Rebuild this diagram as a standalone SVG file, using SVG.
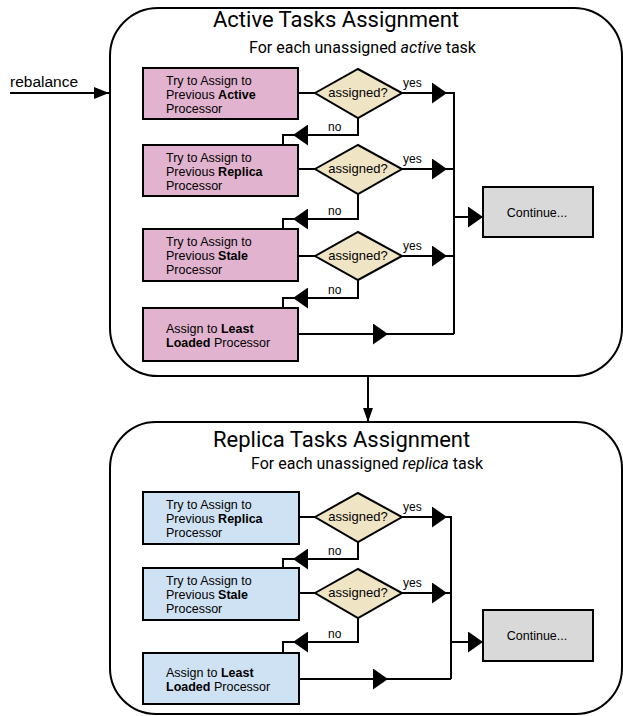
<svg xmlns="http://www.w3.org/2000/svg" width="623" height="716" viewBox="0 0 623 716">
<defs>
<style>
.cont{fill:#fff;stroke:#000;stroke-width:2}
.title{font-family:Roboto,"Liberation Sans",sans-serif;font-size:22px;fill:#000}
.sub{font-family:Roboto,"Liberation Sans",sans-serif;font-size:16px;fill:#000}
.pink{fill:#e1b3ce;stroke:#000;stroke-width:2}
.blue{fill:#cfe2f3;stroke:#000;stroke-width:2}
.dia{fill:#efe4c4;stroke:#000;stroke-width:2}
.gray{fill:#d9d9d9;stroke:#000;stroke-width:2}
.t{font-family:"Liberation Sans",Arial,sans-serif;font-size:12.5px;fill:#000}
.dt{font-family:"Liberation Sans",Arial,sans-serif;font-size:13px;fill:#000;text-anchor:middle}
.lbl{font-family:"Liberation Sans",Arial,sans-serif;font-size:12px;fill:#000}
.ln{fill:none;stroke:#000;stroke-width:2}
.arr{fill:none;stroke:#000;stroke-width:2;marker-end:url(#ah)}
</style>
<marker id="ah" viewBox="0 0 15 21" refX="15" refY="10.5" markerWidth="15" markerHeight="21" markerUnits="userSpaceOnUse" orient="auto"><path d="M0,0 L15,10.5 L0,21 z" fill="#000"/></marker>
<marker id="ahs" viewBox="0 0 15 12" refX="15" refY="6" markerWidth="15" markerHeight="12" markerUnits="userSpaceOnUse" orient="auto"><path d="M0,0 L15,6 L0,12 z" fill="#000"/></marker>
<marker id="ahv" viewBox="0 0 14 10" refX="14" refY="5" markerWidth="14" markerHeight="10" markerUnits="userSpaceOnUse" orient="auto"><path d="M0,0 L14,5 L0,10 z" fill="#000"/></marker>
</defs>

<g id="active-container">
<rect class="cont" x="110" y="8" width="512" height="368" rx="48" ry="48"/>
<text class="title" x="213" y="27">Active Tasks Assignment</text>
<text class="sub" x="249" y="53">For each unassigned <tspan font-style="italic">active</tspan> task</text>
</g>

<g id="replica-container">
<rect class="cont" x="110" y="422" width="512" height="292" rx="46" ry="46"/>
<text class="title" x="213" y="447">Replica Tasks Assignment</text>
<text class="sub" x="251" y="469">For each unassigned <tspan font-style="italic">replica</tspan> task</text>
</g>

<g id="rebalance-label">
<text x="10" y="87" style="font-family:'Liberation Sans',Arial,sans-serif;font-size:15.5px">rebalance</text>
</g>

<g id="connectors">
<path d="M10,93 H109" class="ln" style="marker-end:url(#ahs)"/>
<path d="M368,376 V422" class="ln" style="marker-end:url(#ahv)"/>
<!-- active section -->
<path class="ln" d="M298,93 H315"/>
<path class="ln" d="M298,169 H315"/>
<path class="ln" d="M298,256 H315"/>
<path class="arr" d="M402,93 H447"/>
<path class="arr" d="M402,169 H447"/>
<path class="arr" d="M402,256 H447"/>
<path class="ln" d="M447,93 H454 V334"/>
<path class="ln" d="M447,169 H454"/>
<path class="ln" d="M447,256 H454"/>
<path class="arr" d="M298,334 H388"/>
<path class="ln" d="M388,334 H454"/>
<path class="arr" d="M454,217 H483"/>
<path class="arr" d="M358,118 V135 H293"/>
<path class="ln" d="M293,135 H283 V145"/>
<path class="arr" d="M358,194 V219 H293"/>
<path class="ln" d="M293,219 H283 V229"/>
<path class="arr" d="M358,280 V298 H293"/>
<path class="ln" d="M293,298 H283 V308"/>
<!-- replica section -->
<path class="ln" d="M299,517 H315"/>
<path class="ln" d="M299,593 H315"/>
<path class="arr" d="M402,517 H447"/>
<path class="arr" d="M402,593 H447"/>
<path class="ln" d="M447,517 H451 V679"/>
<path class="ln" d="M447,593 H451"/>
<path class="arr" d="M299,679 H388"/>
<path class="ln" d="M388,679 H451"/>
<path class="arr" d="M451,642 H483"/>
<path class="arr" d="M358,542 V559 H293"/>
<path class="ln" d="M293,559 H283 V568"/>
<path class="arr" d="M358,618 V642 H293"/>
<path class="ln" d="M293,642 H283 V653"/>
<!-- labels -->
<text class="lbl" x="403" y="87">yes</text>
<text class="lbl" x="403" y="163">yes</text>
<text class="lbl" x="403" y="250">yes</text>
<text class="lbl" x="328" y="131">no</text>
<text class="lbl" x="328" y="215">no</text>
<text class="lbl" x="328" y="294">no</text>
<text class="lbl" x="403" y="511">yes</text>
<text class="lbl" x="403" y="587">yes</text>
<text class="lbl" x="328" y="555">no</text>
<text class="lbl" x="328" y="638">no</text>
</g>

<g id="a-prev-active">
<rect class="pink" x="143" y="68" width="155" height="51"/>
<text class="t" x="166" y="85">Try to Assign to</text>
<text class="t" x="166" y="99">Previous <tspan font-weight="bold">Active</tspan></text>
<text class="t" x="166" y="113">Processor</text>
</g>
<g id="a-dec-1"><polygon class="dia" points="315,93 358,69 402,93 358,118"/><text class="dt" x="358" y="97">assigned?</text></g>

<g id="a-prev-replica">
<rect class="pink" x="143" y="145" width="155" height="51"/>
<text class="t" x="166" y="161.5">Try to Assign to</text>
<text class="t" x="166" y="175.5">Previous <tspan font-weight="bold">Replica</tspan></text>
<text class="t" x="166" y="189.5">Processor</text>
</g>
<g id="a-dec-2"><polygon class="dia" points="315,169 358,145 402,169 358,194"/><text class="dt" x="358" y="173">assigned?</text></g>

<g id="a-prev-stale">
<rect class="pink" x="143" y="229" width="155" height="52"/>
<text class="t" x="166" y="245.5">Try to Assign to</text>
<text class="t" x="166" y="259.5">Previous <tspan font-weight="bold">Stale</tspan></text>
<text class="t" x="166" y="273.5">Processor</text>
</g>
<g id="a-dec-3"><polygon class="dia" points="315,256 358,232 402,256 358,280"/><text class="dt" x="358" y="260">assigned?</text></g>

<g id="a-least-loaded">
<rect class="pink" x="143" y="308" width="155" height="53"/>
<text class="t" x="166" y="333"><tspan>Assign to </tspan><tspan font-weight="bold">Least</tspan></text>
<text class="t" x="166" y="347"><tspan font-weight="bold">Loaded</tspan> Processor</text>
</g>

<g id="a-continue">
<rect class="gray" x="483" y="187" width="110" height="50"/>
<text class="dt" x="537" y="217" style="font-size:12.5px">Continue...</text>
</g>

<g id="r-prev-replica">
<rect class="blue" x="143" y="492" width="156" height="52"/>
<text class="t" x="166" y="508.5">Try to Assign to</text>
<text class="t" x="166" y="522.5">Previous <tspan font-weight="bold">Replica</tspan></text>
<text class="t" x="166" y="536.5">Processor</text>
</g>
<g id="r-dec-1"><polygon class="dia" points="315,517 358,493 402,517 358,542"/><text class="dt" x="358" y="521">assigned?</text></g>

<g id="r-prev-stale">
<rect class="blue" x="143" y="568" width="156" height="52"/>
<text class="t" x="166" y="584.5">Try to Assign to</text>
<text class="t" x="166" y="598.5">Previous <tspan font-weight="bold">Stale</tspan></text>
<text class="t" x="166" y="612.5">Processor</text>
</g>
<g id="r-dec-2"><polygon class="dia" points="315,593 358,569 402,593 358,618"/><text class="dt" x="358" y="597">assigned?</text></g>

<g id="r-least-loaded">
<rect class="blue" x="143" y="653" width="156" height="51"/>
<text class="t" x="166" y="677">Assign to <tspan font-weight="bold">Least</tspan></text>
<text class="t" x="166" y="691"><tspan font-weight="bold">Loaded</tspan> Processor</text>
</g>

<g id="r-continue">
<rect class="gray" x="483" y="610" width="110" height="51"/>
<text class="dt" x="537" y="640" style="font-size:12.5px">Continue...</text>
</g>
</svg>
